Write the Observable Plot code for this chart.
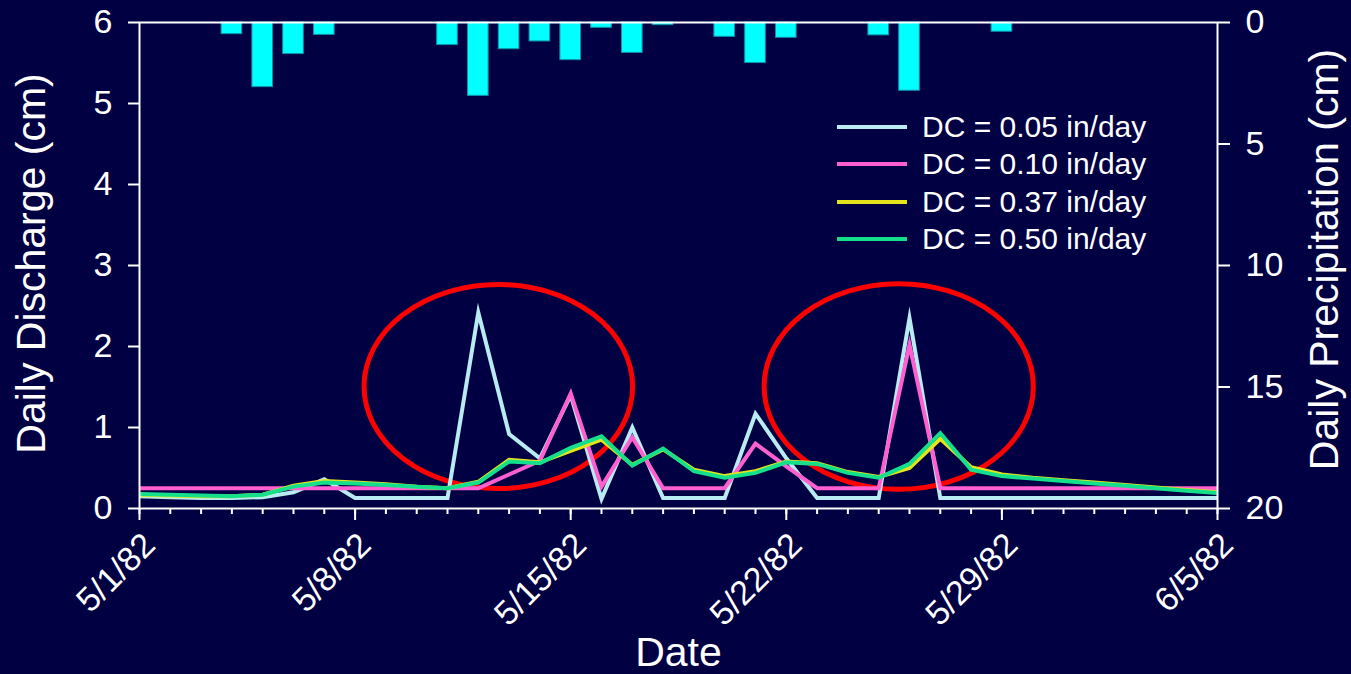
<!DOCTYPE html>
<html><head><meta charset="utf-8">
<script src="https://cdn.jsdelivr.net/npm/d3@7"></script>
<script src="https://cdn.jsdelivr.net/npm/@observablehq/plot@0.6"></script>
<style>
html,body{margin:0;padding:0;background:#000042;}
#wrap{position:relative;width:1351px;height:674px;overflow:hidden;font-family:"Liberation Sans",Arial,sans-serif;color:#fff;}
#legend{position:absolute;left:837px;top:108px;}
.row{display:flex;align-items:center;height:37.5px;}
.sw{width:70px;height:4px;margin-right:15px;}
.lab{font-size:30px;line-height:1;white-space:nowrap;}
</style></head><body><div id="wrap"></div>
<script>
// ---- data ----
const dates = ["1982-05-01","1982-05-02","1982-05-03","1982-05-04","1982-05-05","1982-05-06","1982-05-07","1982-05-08","1982-05-09","1982-05-10","1982-05-11","1982-05-12","1982-05-13","1982-05-14","1982-05-15","1982-05-16","1982-05-17","1982-05-18","1982-05-19","1982-05-20","1982-05-21","1982-05-22","1982-05-23","1982-05-24","1982-05-25","1982-05-26","1982-05-27","1982-05-28","1982-05-29","1982-05-30","1982-05-31","1982-06-01","1982-06-02","1982-06-03","1982-06-04","1982-06-05"];
const dc005 = [0.15,0.14,0.13,0.13,0.14,0.20,0.36,0.13,0.13,0.13,0.13,2.42,0.92,0.62,1.40,0.12,1.00,0.13,0.13,0.13,1.17,0.62,0.13,0.13,0.13,2.35,0.13,0.13,0.13,0.13,0.13,0.13,0.13,0.13,0.13,0.13];
const dc010 = [0.25,0.25,0.25,0.25,0.25,0.25,0.25,0.25,0.25,0.25,0.25,0.25,0.42,0.59,1.42,0.27,0.88,0.25,0.25,0.25,0.80,0.52,0.25,0.25,0.25,2.02,0.25,0.25,0.25,0.25,0.25,0.25,0.25,0.25,0.25,0.25];
const dc037 = [0.17,0.16,0.15,0.15,0.17,0.28,0.34,0.32,0.30,0.27,0.25,0.33,0.60,0.57,0.71,0.85,0.54,0.73,0.48,0.40,0.46,0.58,0.56,0.45,0.39,0.50,0.86,0.51,0.42,0.38,0.35,0.32,0.29,0.26,0.23,0.20];
const dc050 = [0.18,0.17,0.16,0.15,0.17,0.27,0.32,0.31,0.29,0.27,0.25,0.32,0.58,0.56,0.75,0.89,0.53,0.74,0.46,0.38,0.44,0.57,0.55,0.44,0.38,0.55,0.93,0.48,0.40,0.37,0.34,0.31,0.28,0.25,0.22,0.19];
const seriesNames = ["DC = 0.05 in/day","DC = 0.10 in/day","DC = 0.37 in/day","DC = 0.50 in/day"];
const seriesColors = ["#B8ECF2","#FF5FD0","#E4E41C","#14E08C"];
const precipDates = ["1982-05-04","1982-05-05","1982-05-06","1982-05-07","1982-05-11","1982-05-12","1982-05-13","1982-05-14","1982-05-15","1982-05-16","1982-05-17","1982-05-18","1982-05-20","1982-05-21","1982-05-22","1982-05-25","1982-05-26","1982-05-29"];
const precipCm = [0.48,2.66,1.30,0.51,0.93,3.02,1.10,0.78,1.55,0.22,1.25,0.11,0.59,1.67,0.63,0.53,2.81,0.38];
const dischargeTicks = [0,1,2,3,4,5,6];
const precipTicks = [0,5,10,15,20];
const majorTickDates = ["1982-05-01","1982-05-08","1982-05-15","1982-05-22","1982-05-29","1982-06-05"];
const tickLabels = ["5/1/82","5/8/82","5/15/82","5/22/82","5/29/82","6/5/82"];
const ellipseCenters = ["1982-05-12T16:00Z","1982-05-25T16:00Z"];
const ellipseCenterY = [1.5,1.5];
const ellipseRadiusDays = [4.36,4.37];
const ellipseRadiusY = [1.26,1.27];

// ---- build ----
const DAY = 864e5;
const yMax = 6, precipMax = 20, k = yMax / precipMax; // precipitation axis mapped onto discharge scale (inverted)
const allDates = dates.map(s => new Date(s));
const seriesValues = [dc005, dc010, dc037, dc050];
const seriesRows = seriesValues.map(vals => vals.map((v, i) => ({date: allDates[i], value: v})));
const precip = precipDates.map((s, i) => ({date: new Date(s), p: precipCm[i]}));
const majors = majorTickDates.map(s => new Date(s));
const ellipses = ellipseCenters.map((s, i) => ({c: new Date(s), cy: ellipseCenterY[i], rx: ellipseRadiusDays[i], ry: ellipseRadiusY[i]}));

function ellipseMark(index, scales) {
  const g = d3.create("svg:g");
  for (const e of ellipses) {
    const cx = scales.x(e.c), cy = scales.y(e.cy);
    const rx = scales.x(new Date(+e.c + e.rx * DAY)) - cx;
    const ry = scales.y(e.cy - e.ry) - cy;
    g.append("ellipse").attr("cx", cx).attr("cy", cy).attr("rx", rx).attr("ry", ry)
      .attr("fill", "none").attr("stroke", "#FF0000").attr("stroke-width", 5);
  }
  return g.node();
}

const lineMarks = seriesRows.map((rows, i) => Plot.line(rows, {
  x: "date", y: "value", stroke: seriesColors[i], strokeWidth: 4,
  strokeLinejoin: "miter", strokeMiterlimit: 10, strokeLinecap: "butt"
}));

const TICK_FONT = 34, TITLE_FONT = 41;
const chart = Plot.plot({
  width: 1351, height: 674,
  marginLeft: 139, marginRight: 134, marginTop: 22, marginBottom: 166,
  style: {background: "#000042", color: "white", fontFamily: "'Liberation Sans', Arial, sans-serif", overflow: "visible"},
  x: {type: "utc", domain: [allDates[0], allDates[allDates.length - 1]]},
  y: {domain: [0, yMax]},
  marks: [
    ellipseMark,
    ...lineMarks,
    Plot.rect(precip, {
      x1: d => new Date(+d.date - 0.335 * DAY), x2: d => new Date(+d.date + 0.335 * DAY),
      y1: () => yMax, y2: d => yMax - d.p * k,
      fill: "#00FFFF", stroke: "#0E8FA8", strokeWidth: 1
    }),
    Plot.frame({stroke: "white", strokeWidth: 2}),
    Plot.axisX({ticks: allDates, tickSize: 6, tickFormat: () => "", label: null, strokeWidth: 2}),
    Plot.axisX({ticks: majors, tickSize: 12, tickFormat: () => "", label: null, strokeWidth: 2}),
    Plot.text(majors, {x: d => d, text: (d, i) => tickLabels[i], frameAnchor: "bottom", rotate: -45,
      textAnchor: "end", lineAnchor: "middle", dx: 10, dy: 31, fontSize: TICK_FONT, fill: "white"}),
    Plot.axisY({ticks: dischargeTicks, tickSize: 11, tickPadding: 16, fontSize: TICK_FONT, label: null, strokeWidth: 2,
      tickFormat: d => String(d)}),
    Plot.axisY({anchor: "right", ticks: precipTicks.map(p => yMax - p * k), tickSize: 12, tickPadding: 16, fontSize: TICK_FONT, label: null, strokeWidth: 2,
      tickFormat: v => String(Math.round((yMax - v) / k))}),
    Plot.text(["Daily Discharge (cm)"], {frameAnchor: "left", dx: -108, dy: -2, rotate: -90, textAnchor: "middle", lineAnchor: "middle", fontSize: TITLE_FONT, fill: "white"}),
    Plot.text(["Daily Precipitation (cm)"], {frameAnchor: "right", dx: 107, dy: -6, rotate: -90, textAnchor: "middle", lineAnchor: "middle", fontSize: TITLE_FONT, fill: "white"}),
    Plot.text(["Date"], {frameAnchor: "bottom", dy: 144, fontSize: TITLE_FONT, fill: "white", textAnchor: "middle", lineAnchor: "middle"})
  ]
});

const wrap = document.getElementById("wrap");
wrap.appendChild(chart);
const legend = document.createElement("div");
legend.id = "legend";
seriesNames.forEach((name, i) => {
  const row = document.createElement("div");
  row.className = "row";
  row.innerHTML = `<div class="sw" style="background:${seriesColors[i]}"></div><div class="lab">${name}</div>`;
  legend.appendChild(row);
});
wrap.appendChild(legend);
</script></body></html>
